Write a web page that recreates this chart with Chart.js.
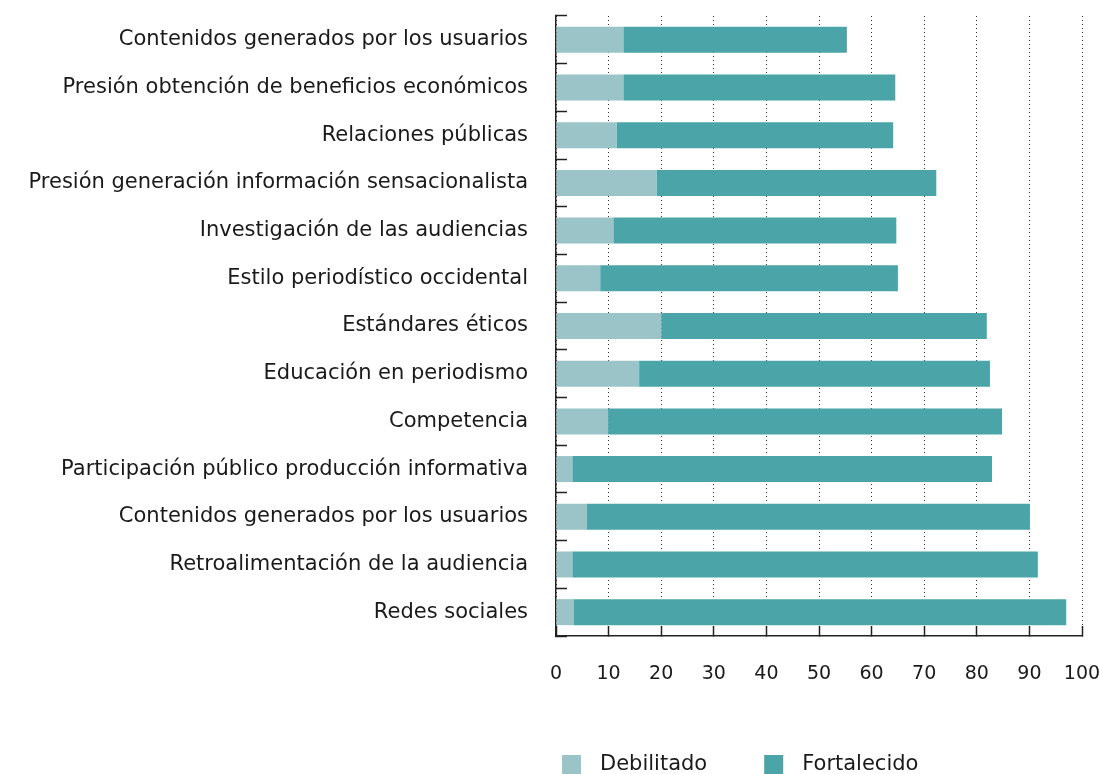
<!DOCTYPE html>
<html>
<head>
<meta charset="utf-8">
<script src="https://cdn.jsdelivr.net/npm/chart.js@4"></script>
<style>
  html, body { margin: 0; padding: 0; background: #fff; }
  #wrap { width: 1100px; height: 774px; }
</style>
</head>
<body>
<div id="wrap"><canvas id="grafico"></canvas></div>
<script>
// Factores y porcentajes (Debilitado / Fortalecido)
var factores = [
    'Contenidos generados por los usuarios',
    'Presión obtención de beneficios económicos',
    'Relaciones públicas',
    'Presión generación información sensacionalista',
    'Investigación de las audiencias',
    'Estilo periodístico occidental',
    'Estándares éticos',
    'Educación en periodismo',
    'Competencia',
    'Participación público producción informativa',
    'Contenidos generados por los usuarios',
    'Retroalimentación de la audiencia',
    'Redes sociales'
];
var debilitado = [12.8, 12.8, 11.5, 19.1, 10.9, 8.4, 20.0, 15.8, 9.9, 3.1, 5.9, 3.1, 3.3];
var fortalecido = [42.5, 51.7, 52.6, 53.2, 53.8, 56.6, 61.9, 66.7, 74.9, 79.8, 84.2, 88.5, 93.7];
var ticksX = [0, 10, 20, 30, 40, 50, 60, 70, 80, 90, 100];

var fuente = "'DejaVu Sans', sans-serif";
var tamFuente = 21;
var colorTexto = '#1a1a1a';
var colorEje = '#222';

// Leyenda dibujada a mano bajo el eje
const leyenda = {
    id: 'leyenda',
    afterDraw(chart) {
        const ctx = chart.ctx;
        ctx.save();
        ctx.font = tamFuente + 'px ' + fuente;
        ctx.textBaseline = 'alphabetic';
        let x = 562;
        chart.data.datasets.forEach(ds => {
            ctx.fillStyle = ds.backgroundColor;
            ctx.fillRect(x, 755, 19, 19);
            ctx.fillStyle = colorTexto;
            ctx.fillText(ds.label, x + 38, 770);
            x += 38 + ctx.measureText(ds.label).width + 57;
        });
        ctx.restore();
    }
};

const ctx = document.getElementById('grafico');
const grafico = new Chart(ctx, {
    type: 'bar',
    data: {
        labels: factores,
        datasets: [{
            label: 'Debilitado',
            data: debilitado,
            backgroundColor: '#9ac4c7'
        }, {
            label: 'Fortalecido',
            data: fortalecido,
            backgroundColor: '#4ba4a8'
        }]
    },
    options: {
        indexAxis: 'y',
        responsive: true,
        maintainAspectRatio: false,
        animation: false,
        layout: {
            padding: { top: 16, right: 18, bottom: 38, left: 0 }
        },
        datasets: {
            bar: { categoryPercentage: 1, barPercentage: 0.545, borderWidth: 0 }
        },
        plugins: {
            legend: { display: false },
            tooltip: { enabled: false }
        },
        scales: {
            x: {
                stacked: true,
                min: 0,
                max: 100,
                afterBuildTicks: s => { s.ticks = ticksX.map(v => ({ value: v })); },
                afterFit: s => { s.height = 100; s.paddingLeft = 0; s.paddingRight = 0; },
                grid: {
                    color: '#333',
                    lineWidth: 1,
                    tickLength: -10,
                    tickColor: colorEje,
                    tickWidth: 1.5
                },
                border: { color: colorEje, width: 1.5, dash: [1, 3] },
                ticks: {
                    padding: 37,
                    color: colorTexto,
                    font: { family: fuente, size: 19 },
                    maxRotation: 0
                }
            },
            y: {
                stacked: true,
                afterFit: s => { s.width = 556; s.paddingTop = 0; s.paddingBottom = 0; },
                grid: {
                    drawOnChartArea: false,
                    tickLength: -11,
                    tickColor: colorEje,
                    tickWidth: 1.5
                },
                border: { color: colorEje, width: 1.5 },
                ticks: {
                    padding: 39,
                    color: colorTexto,
                    font: { family: fuente, size: tamFuente }
                }
            }
        }
    },
    plugins: [leyenda]
});
</script>
</body>
</html>
